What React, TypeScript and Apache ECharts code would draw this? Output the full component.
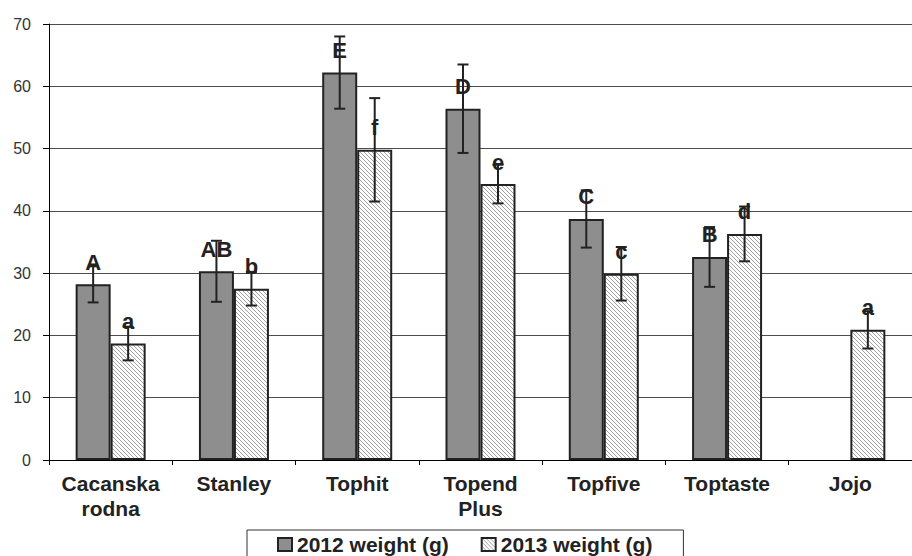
import React, { useEffect, useRef } from "react";
import * as echarts from "echarts";

const categories = ["Cacanska\nrodna", "Stanley", "Tophit", "Topend\nPlus", "Topfive", "Toptaste", "Jojo"];
const seriesNames = ["2012 weight (g)", "2013 weight (g)"];
const weight2012: (number | null)[] = [28.2, 30.3, 62.2, 56.4, 38.7, 32.6, null];
const error2012: (number | null)[] = [2.9, 4.9, 5.8, 7.1, 4.6, 4.8, null];
const letters2012 = ["A", "AB", "E", "D", "C", "B", ""];
const weight2013: number[] = [18.7, 27.5, 49.8, 44.3, 29.9, 36.3, 20.9];
const error2013: number[] = [2.7, 2.7, 8.3, 3.1, 4.3, 4.4, 3.0];
const letters2013 = ["a", "b", "f", "e", "c", "d", "a"];
const yMin = 0;
const yMax = 70;
const yInterval = 10;

const FONT = "'Liberation Sans', Arial, sans-serif";
const BAR_W = 35;

function makeHatch() {
  const c = document.createElement("canvas");
  c.width = 4;
  c.height = 4;
  const ctx = c.getContext("2d")!;
  ctx.fillStyle = "#ffffff";
  ctx.fillRect(0, 0, 4, 4);
  ctx.fillStyle = "#a0a0a0";
  for (let i = 0; i < 4; i++) ctx.fillRect(i, i, 1, 1);
  return c;
}

function errData(vals: (number | null)[], errs: (number | null)[]) {
  const out: number[][] = [];
  vals.forEach((v, i) => {
    const e = errs[i];
    if (v != null && e != null) out.push([i, v - e, v + e]);
  });
  return out;
}

function errSeries(vals: (number | null)[], errs: (number | null)[], offset: number) {
  return {
    type: "custom",
    silent: true,
    z: 5,
    data: errData(vals, errs),
    encode: { x: 0, y: [1, 2] },
    renderItem: (params: any, api: any) => {
      const top = api.coord([api.value(0), api.value(2)]);
      const bot = api.coord([api.value(0), api.value(1)]);
      const x = top[0] + offset;
      const cap = 5.5;
      const style = { stroke: "#222", lineWidth: 2 };
      return {
        type: "group",
        children: [
          { type: "line", shape: { x1: x, y1: top[1], x2: x, y2: bot[1] }, style },
          { type: "line", shape: { x1: x - cap, y1: top[1], x2: x + cap, y2: top[1] }, style },
          { type: "line", shape: { x1: x - cap, y1: bot[1], x2: x + cap, y2: bot[1] }, style },
        ],
      };
    },
  };
}

export default function App() {
  const ref = useRef<HTMLDivElement>(null);
  useEffect(() => {
    if (!ref.current) return;
    const chart = echarts.init(ref.current, null, { renderer: "svg" });
    const hatch = { image: makeHatch(), repeat: "repeat" } as any;
    const labelStyle = (letters: string[]) => ({
      show: true,
      position: "top",
      distance: 11,
      fontFamily: FONT,
      fontSize: 22,
      fontWeight: "bold",
      color: "#222",
      formatter: (p: any) => letters[p.dataIndex] || "",
    });
    chart.setOption({
      animation: false,
      backgroundColor: "#fff",
      textStyle: { fontFamily: FONT },
      grid: { left: 49, top: 24, right: -12, bottom: 96, containLabel: false },
      legend: {
        data: seriesNames,
        left: 247,
        top: 530,
        icon: "rect",
        itemWidth: 14,
        itemHeight: 13,
        itemGap: 32,
        padding: [4, 31, 8, 30],
        borderColor: "#333",
        borderWidth: 1,
        textStyle: { fontFamily: FONT, fontSize: 21, fontWeight: "bold", color: "#222" },
      },
      xAxis: {
        type: "category",
        data: categories,
        boundaryGap: true,
        axisLine: { lineStyle: { color: "#000", width: 1 } },
        axisTick: { show: true, length: 5, interval: 0, lineStyle: { color: "#000" } },
        axisLabel: {
          interval: 0,
          margin: 11,
          fontFamily: FONT,
          fontSize: 21,
          fontWeight: "bold",
          lineHeight: 25,
          color: "#222",
        },
      },
      yAxis: {
        type: "value",
        min: yMin,
        max: yMax,
        interval: yInterval,
        axisLine: { show: true, lineStyle: { color: "#000", width: 1 } },
        axisTick: { show: true, length: 6, lineStyle: { color: "#000" } },
        axisLabel: { margin: 18, fontFamily: FONT, fontSize: 16, color: "#333" },
        splitLine: { lineStyle: { color: "#4d4d4d", width: 1 } },
      },
      series: [
        {
          name: seriesNames[0],
          type: "bar",
          data: weight2012,
          barWidth: BAR_W,
          barGap: "0%",
          itemStyle: { color: "#8e8e8e", borderColor: "#222", borderWidth: 2 },
          label: labelStyle(letters2012),
          z: 3,
        },
        {
          name: seriesNames[1],
          type: "bar",
          data: weight2013,
          barWidth: BAR_W,
          barGap: "0%",
          itemStyle: { color: hatch, borderColor: "#222", borderWidth: 2 },
          label: labelStyle(letters2013),
          z: 3,
        },
        errSeries(weight2012, error2012, -BAR_W / 2),
        errSeries(weight2013, error2013, BAR_W / 2),
      ],
    });
    return () => chart.dispose();
  }, []);
  return (
    <div style={{ position: "fixed", left: 0, top: 0, width: 912, height: 556, overflow: "hidden", background: "#fff" }}>
      <div ref={ref} style={{ width: 912, height: 556 }} />
    </div>
  );
}
